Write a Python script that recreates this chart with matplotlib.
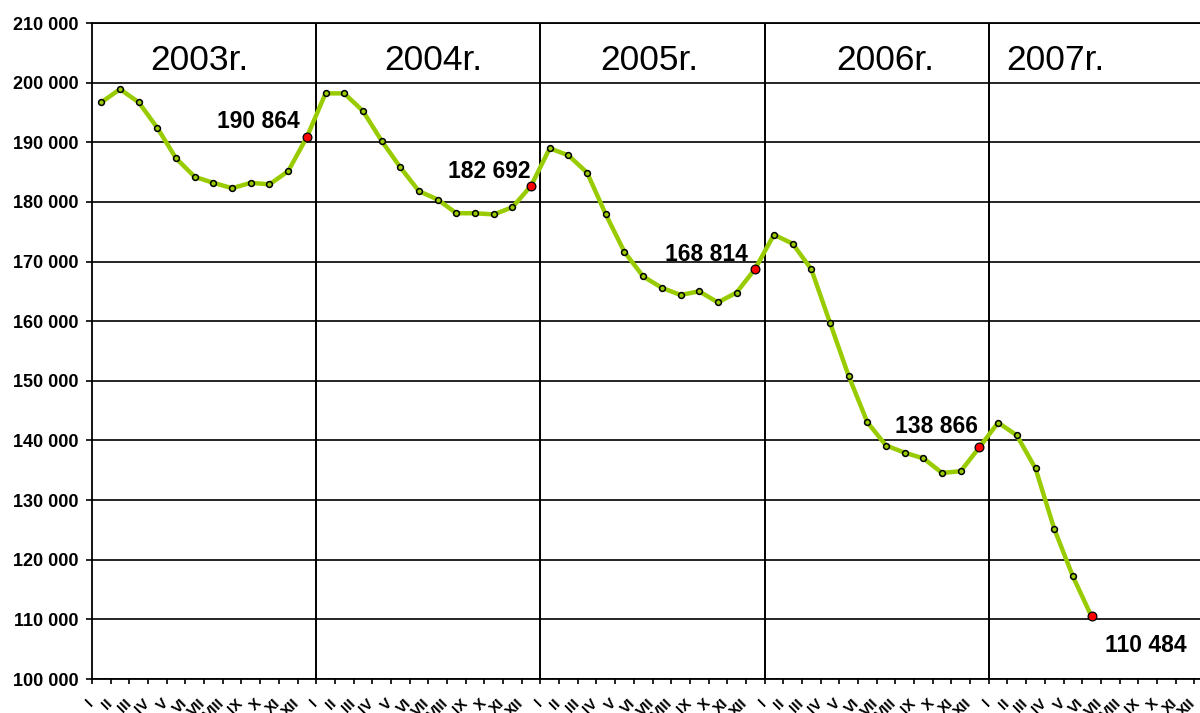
import matplotlib
matplotlib.use("Agg")
import matplotlib.pyplot as plt
from matplotlib.transforms import ScaledTranslation

plt.rcParams['font.family'] = ['Liberation Sans', 'DejaVu Sans']

# ---- data ----
month_labels = ['I', 'II', 'III', 'IV', 'V', 'VI', 'VII', 'VIII', 'IX', 'X', 'XI', 'XII']
year_labels = ['2003r.', '2004r.', '2005r.', '2006r.', '2007r.']
values_2003 = [196700, 198900, 196700, 192400, 187300, 184200, 183200, 182300, 183200, 182950, 185150, 190864]
values_2004 = [198200, 198200, 195250, 190250, 185800, 181800, 180400, 178100, 178100, 177900, 179100, 182692]
values_2005 = [189000, 187800, 184900, 177900, 171600, 167500, 165600, 164400, 165000, 163150, 164800, 168814]
values_2006 = [174500, 173000, 168700, 159750, 150800, 143050, 139150, 137950, 137000, 134550, 134850, 138866]
values_2007 = [143000, 140850, 135300, 125200, 117200, 110484]
y_ticks = list(range(100000, 210001, 10000))

series = values_2003 + values_2004 + values_2005 + values_2006 + values_2007
n_cat = 12 * len(year_labels)
x = list(range(len(series)))
cat_labels = month_labels * len(year_labels)

# highlighted (labelled) points: each December and the last value
hl_idx = [11, 23, 35, 47, len(series) - 1]
# label offsets in pixels (dx, dy of baseline)
label_offsets = [(-48, 9), (-42, 8), (-49, 7.5), (-43, 14), (54, -36)]
# year title positions (category units)
year_text_x = [5.23, 17.78, 29.32, 41.95, 51.08]

fig = plt.figure(figsize=(12, 7.13), dpi=100)
ax = fig.add_axes([92 / 1200, 34 / 713, 1121 / 1200, 656 / 713])

ax.set_xlim(-0.5, n_cat - 0.5)
ax.set_ylim(y_ticks[0], y_ticks[-1])

# grid & year separators
ax.set_yticks(y_ticks)
ax.set_yticklabels([f"{v:,}".replace(',', ' ') for v in y_ticks],
                   fontweight='bold', fontsize=13)
ax.yaxis.grid(True, color='black', lw=1.2)
ax.set_axisbelow(True)
for k in range(1, len(year_labels)):
    ax.axvline(12 * k - 0.5, color='black', lw=1.4, zorder=1)

for s in ax.spines.values():
    s.set_color('black')
    s.set_linewidth(1.3)

ax.tick_params(axis='y', length=4.3, width=1.2, pad=5.5, colors='black')

# x ticks: major at boundaries, minor labels at centres
ax.set_xticks([i - 0.5 for i in range(n_cat + 1)])
ax.set_xticklabels([])
ax.set_xticks(list(range(n_cat)), labels=cat_labels, minor=True)
ax.tick_params(axis='x', which='major', length=3.6, width=1.2, colors='black')
ax.tick_params(axis='x', which='minor', length=0, pad=16)
offset = ScaledTranslation(-10 / 100, 0, fig.dpi_scale_trans)
for lab in ax.get_xticklabels(minor=True):
    lab.set_rotation(45)
    lab.set_rotation_mode('anchor')
    lab.set_ha('right')
    lab.set_va('center')
    lab.set_fontweight('bold')
    lab.set_fontsize(11)
    lab.set_transform(lab.get_transform() + offset)

# main line
ax.plot(x, series, color='#99CC00', lw=3.2, solid_joinstyle='round',
        marker='o', ms=4.2, mfc='#99CC00', mec='black', mew=1.1, zorder=3,
        clip_on=False)
ax.plot([x[i] for i in hl_idx], [series[i] for i in hl_idx], 'o', ms=6.3,
        mfc='red', mec='black', mew=0.9, zorder=4, clip_on=False)

for i, (dx, dy) in zip(hl_idx, label_offsets):
    ax.annotate(f"{series[i]:,}".replace(',', ' '), (x[i], series[i]),
                xytext=(dx, dy), textcoords='offset pixels',
                ha='center', va='baseline', fontsize=16.5, fontweight='bold')

# year titles
ytrans = ax.get_xaxis_transform()
yfrac = (679 - 70) / 656
for xt, t in zip(year_text_x, year_labels):
    ax.text(xt, yfrac, t, transform=ytrans, ha='center', va='baseline',
            fontsize=25.5)

fig.savefig('out.png', dpi=100)
